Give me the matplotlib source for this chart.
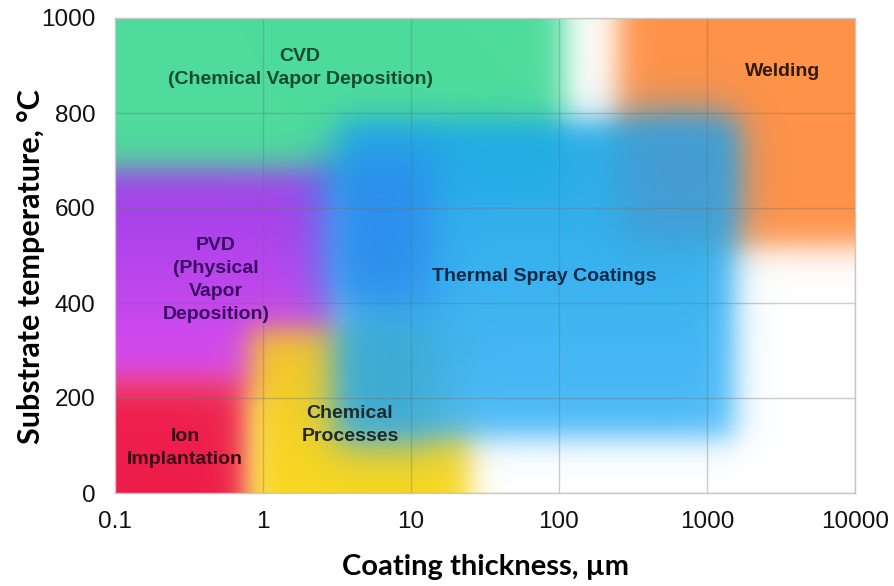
import numpy as np
import matplotlib
matplotlib.use('Agg')
import matplotlib.pyplot as plt
from matplotlib.ticker import NullLocator

# ---------------- data ----------------
x_ticks = [0.1, 1, 10, 100, 1000, 10000]
x_tick_labels = ['0.1', '1', '10', '100', '1000', '10000']
y_ticks = [0, 200, 400, 600, 800, 1000]
y_tick_labels = ['0', '200', '400', '600', '800', '1000']

# process regions (drawn in this order): thickness (um) range, temperature (C) range
region_names = ['Welding', 'CVD', 'PVD', 'Ion Implantation', 'Chemical Processes',
                'Thermal Spray Coatings']
region_x_min = [250, 0.1, 0.1, 0.1, 0.82, 3.3]
region_x_max = [10000, 110, 3.4, 0.86, 25, 1550]
region_y_min = [520, 620, 200, 0, 0, 115]
region_y_max = [1000, 1000, 682, 238, 345, 785]
region_color_bottom = ['#ff9248', '#4edc9c', '#e04cf0', '#ee1c48', '#f8d820', '#48b8f8']
region_color_top = ['#ff9248', '#4edc9c', '#9a40e8', '#ee2050', '#f6c828', '#1ca8e6']
region_alpha = [1.0, 1.0, 1.0, 1.0, 1.0, 0.96]

# blended overlap zones (where thermal spray covers other processes)
overlap_x_min = [2.4, 280, 3.0]
overlap_x_max = [14, 1500, 14]
overlap_y_min = [390, 540, 110]
overlap_y_max = [720, 790, 350]
overlap_color = ['#2c88ee', '#4a9ad0', '#38a6c4']
overlap_alpha = [0.85, 0.9, 0.7]

# labels
label_texts = ['CVD\n(Chemical Vapor Deposition)', 'Welding',
               'PVD\n(Physical\nVapor\nDeposition)', 'Thermal Spray Coatings',
               'Ion\nImplantation', 'Chemical\nProcesses']
label_x = [1.78, 3264, 0.48, 80, 0.297, 3.87]
label_y = [895, 888, 448, 455, 95, 143]
label_colors = ['#154a30', '#2e1a0c', '#3a0c62', '#0c2848', '#3a0a16', '#1e2a2c']

x_label = 'Coating thickness, µm'
y_label = 'Substrate temperature, °C'

# ---------------- build soft image ----------------
XMIN, XMAX, YMIN, YMAX = 0.1, 10000, 0, 1000
LU0, LU1 = np.log10(XMIN), np.log10(XMAX)
nx, ny = 1000, 640
u = np.linspace(LU0, LU1, nx)
v = np.linspace(YMAX, YMIN, ny)
U, V = np.meshgrid(u, v)

def step(t, w):
    return 1.0 / (1.0 + np.exp(-t / w))

def hex2rgb(h):
    h = h.lstrip('#')
    return np.array([int(h[i:i + 2], 16) / 255 for i in (0, 2, 4)])

def soft_mask(x0, x1, y0, y1, wu, wv):
    lu0 = -10 if x0 <= XMIN else np.log10(x0)
    lu1 = 10 if x1 >= XMAX else np.log10(x1)
    ly0 = -1e4 if y0 <= YMIN else y0
    ly1 = 1e4 if y1 >= YMAX else y1
    mx = step(U - lu0, wu) * step(lu1 - U, wu)
    my = step(V - ly0, wv) * step(ly1 - V, wv)
    return mx * my

canvas = np.ones((ny, nx, 3))
for i in range(len(region_names)):
    m = soft_mask(region_x_min[i], region_x_max[i], region_y_min[i], region_y_max[i],
                  0.06, 19)[..., None] * region_alpha[i]
    cb = hex2rgb(region_color_bottom[i])
    ct = hex2rgb(region_color_top[i])
    y0, y1 = region_y_min[i], region_y_max[i]
    f = np.clip((V - y0) / max(y1 - y0, 1), 0, 1)[..., None]
    col = cb * (1 - f) + ct * f
    canvas = canvas * (1 - m) + col * m

for i in range(len(overlap_color)):
    m = soft_mask(overlap_x_min[i], overlap_x_max[i], overlap_y_min[i], overlap_y_max[i],
                  0.09, 30)[..., None] * overlap_alpha[i]
    canvas = canvas * (1 - m) + hex2rgb(overlap_color[i]) * m

canvas = np.clip(canvas, 0, 1)

# ---------------- plot ----------------
fig = plt.figure(figsize=(8.94, 5.86), dpi=100)
rect = [115 / 894, 93 / 586, 740 / 894, 475 / 586]

bg = fig.add_axes(rect)
bg.imshow(canvas, extent=[LU0, LU1, YMIN, YMAX], aspect='auto',
          interpolation='bilinear')
bg.set_xlim(LU0, LU1)
bg.set_ylim(YMIN, YMAX)
bg.axis('off')

ax = fig.add_axes(rect)
ax.set_zorder(2)
ax.patch.set_alpha(0)
ax.set_xscale('log')
ax.set_xlim(XMIN, XMAX)
ax.set_ylim(YMIN, YMAX)

ax.set_xticks(x_ticks)
ax.set_xticklabels(x_tick_labels)
ax.set_yticks(y_ticks)
ax.set_yticklabels(y_tick_labels)
ax.xaxis.set_minor_locator(NullLocator())
ax.tick_params(length=0, labelsize=17.5, colors='#111111')
ax.tick_params(axis='x', pad=13)
ax.tick_params(axis='y', pad=14)
for lab in ax.get_xticklabels() + ax.get_yticklabels():
    lab.set_fontfamily('Liberation Sans')

ax.grid(True, color='#707070', alpha=0.35, lw=1)
for s in ax.spines.values():
    s.set_color('#c8c8c8')
    s.set_linewidth(1)

for t, x, y, c in zip(label_texts, label_x, label_y, label_colors):
    ax.text(x, y, t, ha='center', va='center', fontsize=14, fontweight='bold',
            family='Liberation Sans', color=c, linespacing=1.45, zorder=5)

ax.set_xlabel(x_label, fontsize=21, fontweight='bold', family='Lato', labelpad=15)
ax.set_ylabel(y_label, fontsize=22, fontweight='bold', family='Lato')
ax.yaxis.set_label_coords(-0.094, 0.476)

fig.savefig('out.png', dpi=100)
